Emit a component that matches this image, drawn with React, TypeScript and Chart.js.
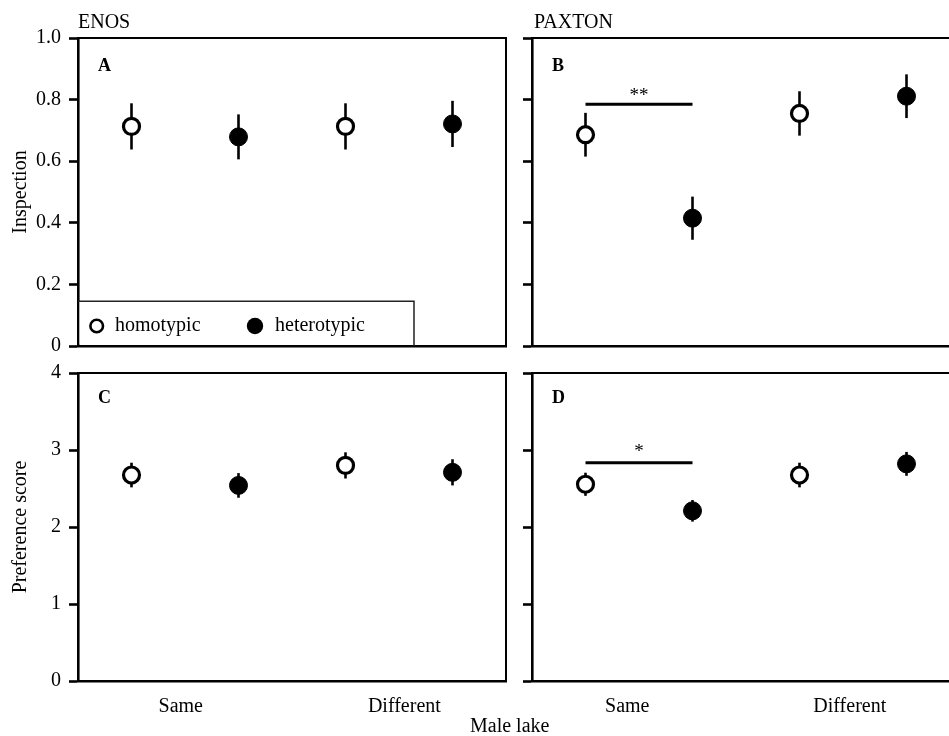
import React, { useEffect, useRef } from "react";
import { Chart, registerables } from "chart.js";
Chart.register(...registerables);

const FONT = "'Liberation Serif', 'Times New Roman', Times, serif";
Chart.defaults.font.family = FONT;
Chart.defaults.color = "#000";

// ---- data ----
const categories = ["Same", "Different"];
const categoryCenters = [1, 3];
const groups = ["homotypic", "heterotypic"];
const groupOffsets = [-0.5, 0.5];

const inspectionTickValues = [0, 0.2, 0.4, 0.6, 0.8, 1.0];
const inspectionTickLabels = ["0", "0.2", "0.4", "0.6", "0.8", "1.0"];
const preferenceTickValues = [0, 1, 2, 3, 4];
const preferenceTickLabels = ["0", "1", "2", "3", "4"];

// Panel A: ENOS inspection
const enosInspHomo = [0.713, 0.713];
const enosInspHomoSE = [0.075, 0.075];
const enosInspHetero = [0.679, 0.721];
const enosInspHeteroSE = [0.073, 0.075];

// Panel B: PAXTON inspection
const paxInspHomo = [0.686, 0.755];
const paxInspHomoSE = [0.071, 0.072];
const paxInspHetero = [0.415, 0.811];
const paxInspHeteroSE = [0.07, 0.071];

// Panel C: ENOS preference score
const enosPrefHomo = [2.675, 2.8];
const enosPrefHomoSE = [0.16, 0.17];
const enosPrefHetero = [2.54, 2.71];
const enosPrefHeteroSE = [0.16, 0.17];

// Panel D: PAXTON preference score
const paxPrefHomo = [2.555, 2.675];
const paxPrefHomoSE = [0.15, 0.16];
const paxPrefHetero = [2.21, 2.82];
const paxPrefHeteroSE = [0.14, 0.155];

// significance bars (Same: homotypic vs heterotypic)
const paxInspSig = { from: 0.5, to: 1.5, y: 0.785, label: "**", labelY: 0.825 };
const paxPrefSig = { from: 0.5, to: 1.5, y: 2.835, label: "*", labelY: 3.03 };

// bottom category label positions
const enosLabelPos = [0.96, 3.05];
const paxLabelPos = [0.89, 2.97];

type PanelDef = {
  letter: string;
  letterBase: number;
  homo: number[];
  homoSE: number[];
  hetero: number[];
  heteroSE: number[];
  yMin: number;
  yMax: number;
  tickValues: number[];
  tickLabels: string[];
  showYLabels: boolean;
  yTitle?: string;
  showX: boolean;
  xLabelPos: number[];
  sig?: { from: number; to: number; y: number; label: string; labelY: number };
  legend?: boolean;
  left: number;
  top: number;
  w: number;
  h: number;
  pad: { top: number; right: number; bottom: number; left: number };
  yWidth: number;
  xHeight: number;
};

const panels: PanelDef[] = [
  {
    letter: "A", letterBase: 33,
    homo: enosInspHomo, homoSE: enosInspHomoSE, hetero: enosInspHetero, heteroSE: enosInspHeteroSE,
    yMin: 0, yMax: 1, tickValues: inspectionTickValues, tickLabels: inspectionTickLabels,
    showYLabels: true, yTitle: "Inspection", showX: false, xLabelPos: enosLabelPos, legend: true,
    left: 0, top: 0, w: 520, h: 370, pad: { top: 38, right: 14, bottom: 0, left: 0 }, yWidth: 78, xHeight: 24,
  },
  {
    letter: "B", letterBase: 33,
    homo: paxInspHomo, homoSE: paxInspHomoSE, hetero: paxInspHetero, heteroSE: paxInspHeteroSE,
    yMin: 0, yMax: 1, tickValues: inspectionTickValues, tickLabels: inspectionTickLabels,
    showYLabels: false, showX: false, xLabelPos: paxLabelPos, sig: paxInspSig,
    left: 470, top: 0, w: 520, h: 370, pad: { top: 38, right: 30, bottom: 0, left: 0 }, yWidth: 62, xHeight: 24,
  },
  {
    letter: "C", letterBase: 30,
    homo: enosPrefHomo, homoSE: enosPrefHomoSE, hetero: enosPrefHetero, heteroSE: enosPrefHeteroSE,
    yMin: 0, yMax: 4, tickValues: preferenceTickValues, tickLabels: preferenceTickLabels,
    showYLabels: true, yTitle: "Preference score", showX: true, xLabelPos: enosLabelPos,
    left: 0, top: 343, w: 520, h: 393, pad: { top: 30, right: 14, bottom: 0, left: 0 }, yWidth: 78, xHeight: 55,
  },
  {
    letter: "D", letterBase: 30,
    homo: paxPrefHomo, homoSE: paxPrefHomoSE, hetero: paxPrefHetero, heteroSE: paxPrefHeteroSE,
    yMin: 0, yMax: 4, tickValues: preferenceTickValues, tickLabels: preferenceTickLabels,
    showYLabels: false, showX: true, xLabelPos: paxLabelPos, sig: paxPrefSig,
    left: 470, top: 343, w: 520, h: 393, pad: { top: 30, right: 30, bottom: 0, left: 0 }, yWidth: 62, xHeight: 55,
  },
];

function buildConfig(p: PanelDef): any {
  const homoPts = categoryCenters.map((c, i) => ({ x: c + groupOffsets[0], y: p.homo[i] }));
  const heteroPts = categoryCenters.map((c, i) => ({ x: c + groupOffsets[1], y: p.hetero[i] }));
  const errData = [
    ...categoryCenters.map((c, i) => ({ x: c + groupOffsets[0], y: [p.homo[i] - p.homoSE[i], p.homo[i] + p.homoSE[i]] })),
    ...categoryCenters.map((c, i) => ({ x: c + groupOffsets[1], y: [p.hetero[i] - p.heteroSE[i], p.hetero[i] + p.heteroSE[i]] })),
  ];

  const datasets: any[] = [
    {
      type: "scatter", label: groups[0], data: homoPts, order: 1,
      pointRadius: 8, pointBorderWidth: 3.2, pointBackgroundColor: "#fff", pointBorderColor: "#000",
      pointHoverRadius: 8,
    },
    {
      type: "scatter", label: groups[1], data: heteroPts, order: 1,
      pointRadius: 9, pointBorderWidth: 1, pointBackgroundColor: "#000", pointBorderColor: "#000",
      pointHoverRadius: 9,
    },
    {
      type: "bar", label: "SE", data: errData, order: 3, backgroundColor: "#000", borderWidth: 0,
      barThickness: 2.6, grouped: false, inflateAmount: 0,
    },
  ];
  if (p.sig) {
    datasets.push({
      type: "line", label: "sig", data: [{ x: p.sig.from, y: p.sig.y }, { x: p.sig.to, y: p.sig.y }],
      borderColor: "#000", borderWidth: 3, pointRadius: 0, order: 2, borderCapStyle: "butt",
    });
  }

  const annot = {
    id: "annot",
    afterDraw(chart: any) {
      const { ctx, chartArea } = chart;
      const { left, right, top, bottom } = chartArea;
      const xs = chart.scales.x;
      const ys = chart.scales.y;
      ctx.save();
      // top & right frame
      ctx.strokeStyle = "#000";
      ctx.lineWidth = 2;
      ctx.beginPath();
      ctx.moveTo(left, top);
      ctx.lineTo(right, top);
      ctx.lineTo(right, bottom);
      ctx.stroke();
      // panel letter
      ctx.fillStyle = "#000";
      ctx.font = `bold 18px ${FONT}`;
      ctx.textAlign = "left";
      ctx.textBaseline = "alphabetic";
      ctx.fillText(p.letter, left + 20, top + p.letterBase);
      // significance label
      if (p.sig) {
        ctx.font = `19px ${FONT}`;
        ctx.textAlign = "center";
        const cx = xs.getPixelForValue((p.sig.from + p.sig.to) / 2);
        const cy = ys.getPixelForValue(p.sig.labelY);
        ctx.fillText(p.sig.label, cx, cy + 9);
      }
      // legend
      if (p.legend) {
        const bx = left, by = bottom - 44.7, bw = 336, bh = 44.7;
        ctx.fillStyle = "#fff";
        ctx.fillRect(bx + 1.5, by, bw - 1.5, bh - 1.5);
        ctx.strokeStyle = "#222";
        ctx.lineWidth = 1.5;
        ctx.beginPath();
        ctx.moveTo(bx, by);
        ctx.lineTo(bx + bw, by);
        ctx.lineTo(bx + bw, bottom);
        ctx.stroke();
        const my = bottom - 20;
        // open marker
        ctx.beginPath();
        ctx.arc(bx + 18.7, my, 6.3, 0, Math.PI * 2);
        ctx.fillStyle = "#fff";
        ctx.fill();
        ctx.lineWidth = 2.6;
        ctx.strokeStyle = "#000";
        ctx.stroke();
        // filled marker
        ctx.beginPath();
        ctx.arc(bx + 177, my, 8.2, 0, Math.PI * 2);
        ctx.fillStyle = "#000";
        ctx.fill();
        ctx.font = `20px ${FONT}`;
        ctx.textAlign = "left";
        ctx.textBaseline = "alphabetic";
        ctx.fillText(groups[0], bx + 37, bottom - 15);
        ctx.fillText(groups[1], bx + 197, bottom - 15);
      }
      ctx.restore();
    },
  };

  return {
    type: "scatter",
    data: { datasets },
    plugins: [annot],
    options: {
      animation: false,
      responsive: false,
      devicePixelRatio: 1,
      layout: { padding: p.pad },
      plugins: { legend: { display: false }, tooltip: { enabled: false }, title: { display: false } },
      events: [],
      scales: {
        x: {
          type: "linear",
          min: 0,
          max: 4,
          offset: false,
          grid: { display: false, offset: false },
          border: { display: true, color: "#000", width: 2.6 },
          ticks: {
            display: p.showX,
            padding: 6,
            maxRotation: 0,
            autoSkip: false,
            color: "#000",
            font: { size: 20, family: FONT },
            callback: (_v: any, i: number) => categories[i],
          },
          afterBuildTicks: (s: any) => {
            s.ticks = p.xLabelPos.map((v) => ({ value: v }));
          },
          afterFit: (s: any) => {
            s.height = p.xHeight;
          },
        },
        y: {
          type: "linear",
          min: p.yMin,
          max: p.yMax,
          grid: {
            display: true,
            drawOnChartArea: false,
            drawTicks: true,
            tickLength: 9,
            tickWidth: 2.6,
            tickColor: "#000",
            color: "#000",
          },
          border: { display: true, color: "#000", width: 2.6 },
          ticks: {
            display: p.showYLabels,
            padding: 8,
            color: "#000",
            font: { size: 20, family: FONT },
            callback: (_v: any, i: number) => p.tickLabels[i],
          },
          afterBuildTicks: (s: any) => {
            s.ticks = p.tickValues.map((v) => ({ value: v }));
          },
          title: {
            display: !!p.yTitle,
            text: p.yTitle || "",
            color: "#000",
            font: { size: 20, family: FONT },
            padding: { top: 9, bottom: 0 },
          },
          afterFit: (s: any) => {
            s.width = p.yWidth;
          },
        },
      },
    },
  };
}

function Panel({ p }: { p: PanelDef }) {
  const ref = useRef<HTMLCanvasElement | null>(null);
  useEffect(() => {
    const chart = new Chart(ref.current as HTMLCanvasElement, buildConfig(p));
    return () => chart.destroy();
  }, [p]);
  return (
    <canvas
      ref={ref}
      width={p.w}
      height={p.h}
      style={{ position: "absolute", left: p.left, top: p.top, width: p.w, height: p.h }}
    />
  );
}

const textStyle: React.CSSProperties = {
  position: "absolute",
  fontSize: 20,
  lineHeight: "20px",
  fontFamily: FONT,
  color: "#000",
  whiteSpace: "nowrap",
};

export default function App() {
  return (
    <div
      style={{
        position: "absolute",
        left: 0,
        top: 0,
        width: 949,
        height: 736,
        overflow: "hidden",
        background: "#fff",
      }}
    >
      {panels.map((p) => (
        <Panel key={p.letter} p={p} />
      ))}
      <div style={{ ...textStyle, left: 78, top: 11 }}>ENOS</div>
      <div style={{ ...textStyle, left: 534, top: 11 }}>PAXTON</div>
      <div style={{ ...textStyle, left: 470, top: 715 }}>Male lake</div>
    </div>
  );
}
